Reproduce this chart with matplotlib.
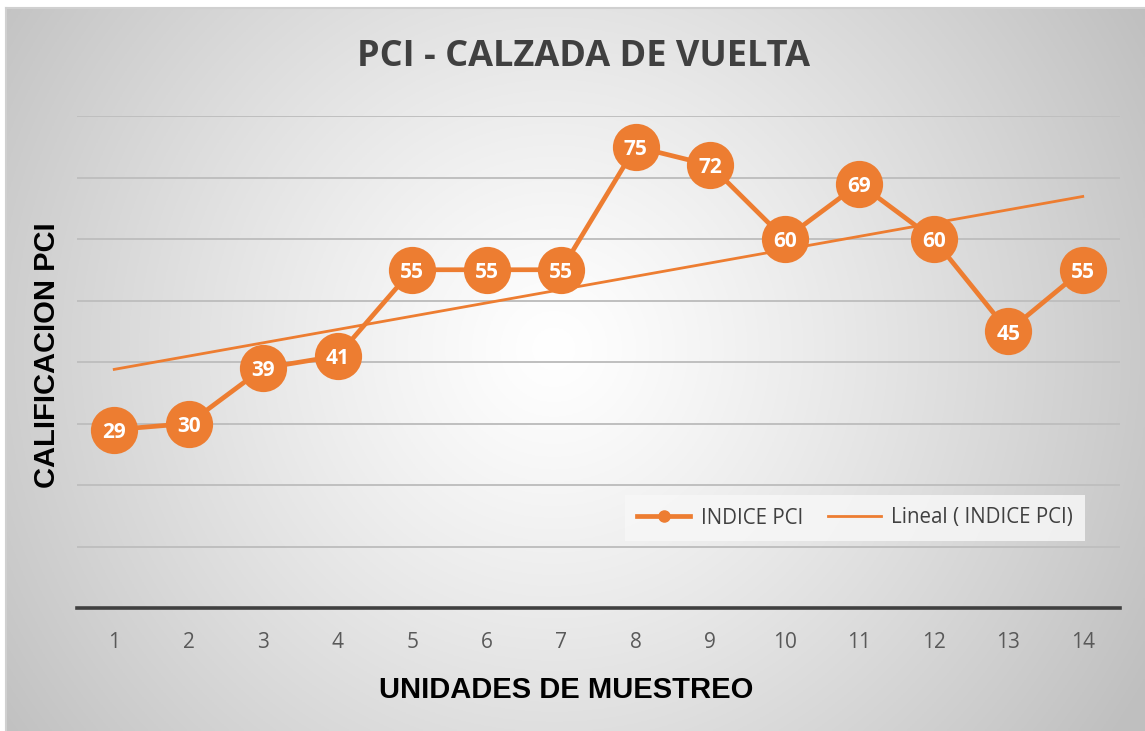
import numpy as np
import matplotlib
matplotlib.use("Agg")
import matplotlib.pyplot as plt
from matplotlib.lines import Line2D
from matplotlib.transforms import offset_copy

units = list(range(1, 15))
pci = [29, 30, 39, 41, 55, 55, 55, 75, 72, 60, 69, 60, 45, 55]
title = "PCI - CALZADA DE VUELTA"
xlabel = "UNIDADES DE MUESTREO"
ylabel = "CALIFICACION PCI"
series_name = "INDICE PCI"
trend_name = "Lineal ( INDICE PCI)"

W, H = 1145, 731
ORANGE = "#ED7D31"
fig = plt.figure(figsize=(W / 100, H / 100), dpi=100)
fig.patch.set_facecolor("white")

# background radial gradient panel
bx0, by0 = 6, 8
bg = fig.add_axes([bx0 / W, 0, 1 - bx0 / W, 1 - by0 / H])
ny, nx = 300, 470
yy, xx = np.mgrid[0:ny, 0:nx]
cx, cy = 0.48 * nx, 0.47 * ny
r = np.sqrt(((xx - cx) / (0.60 * nx)) ** 2 + ((yy - cy) / (0.60 * nx)) ** 2)
r = np.clip(r, 0, 1)
val = 1.0 - 0.25 * r ** 1.2
bg.imshow(np.dstack([val, val, val]), aspect="auto", extent=[0, 1, 0, 1], origin="upper")
bg.set_axis_off()
# border
fig.add_artist(Line2D([bx0 / W, 1], [1 - by0 / H, 1 - by0 / H], color="#d0d0d0", lw=1.5))
fig.add_artist(Line2D([bx0 / W, bx0 / W], [0, 1 - by0 / H], color="#d0d0d0", lw=1.5))

left, right = 77 / W, 1120 / W
top, bottom = 1 - 116 / H, 1 - 608 / H
ax = fig.add_axes([left, bottom, right - left, top - bottom])
ax.patch.set_alpha(0)
ax.set_xlim(0.5, 14.5)
ax.set_ylim(0, 80)
ax.set_yticks(np.arange(10, 81, 10))
ax.yaxis.grid(True, color="#bfbfbf", lw=1.4)
ax.set_axisbelow(True)
ax.tick_params(axis="y", left=False, labelleft=False)
ax.set_xticks(units)
ax.tick_params(axis="x", bottom=False, labelsize=15, labelcolor="#595959", pad=14)
for lbl in ax.get_xticklabels():
    lbl.set_family("Open Sans")
for s in ["top", "right", "left"]:
    ax.spines[s].set_visible(False)
ax.spines["bottom"].set_color("#404040")
ax.spines["bottom"].set_linewidth(2.6)

slope, intercept = np.polyfit(units, pci, 1)
xs = np.array([units[0], units[-1]])
ax.plot(xs, slope * xs + intercept, color=ORANGE, lw=2.0, zorder=3)
ax.plot(units, pci, color=ORANGE, lw=3.4, marker="o", markersize=34,
        markeredgewidth=0, zorder=4)
lbl_tr = offset_copy(ax.transData, fig=fig, x=0, y=-2, units="points")
for x, v in zip(units, pci):
    ax.text(x, v, str(v), ha="center", va="center", color="white",
            fontsize=15, fontweight="bold", family="Open Sans", zorder=5,
            transform=lbl_tr)

h1 = Line2D([], [], color=ORANGE, lw=3.4, marker="o", markersize=8)
h2 = Line2D([], [], color=ORANGE, lw=2.0)
leg = ax.legend([h1, h2], [series_name, trend_name], ncol=2,
                loc="center", bbox_to_anchor=((855 - 77) / (1120 - 77), (608 - 518) / (608 - 116)),
                frameon=True, fancybox=False, handlelength=2.6, columnspacing=1.2,
                handletextpad=0.5,
                prop={"family": "Open Sans", "size": 14.8}, borderpad=0.6)
leg.get_frame().set_facecolor("#f7f7f7")
leg.get_frame().set_edgecolor("none")
leg.get_frame().set_alpha(0.85)
for t in leg.get_texts():
    t.set_color("#404040")

fig.text(583 / W, 1 - 57 / H, title, ha="center", va="center", fontsize=26,
         fontweight="bold", color="#404040", family="Open Sans")
fig.text(566 / W, 1 - 690 / H, xlabel, ha="center", va="center", fontsize=21,
         fontweight="bold", color="black", family="Liberation Sans")
fig.text(47 / W, 1 - 355 / H, ylabel, ha="center", va="center", rotation=90,
         fontsize=21, fontweight="bold", color="black", family="Liberation Sans")

fig.savefig("out.png", dpi=100)
